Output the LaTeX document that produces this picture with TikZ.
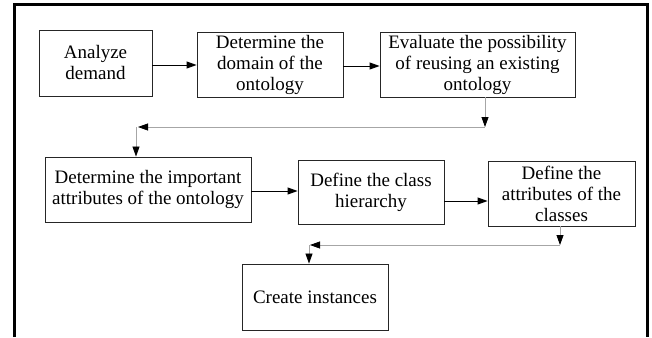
\documentclass[tikz,border=0pt]{standalone}
\usepackage{fontspec}
\setmainfont{Liberation Serif}
\usetikzlibrary{arrows.meta}
\begin{document}
\begin{tikzpicture}[x=1pt,y=-1pt,
  stepbox/.style={draw=black!85, line width=0.9pt, align=center, inner sep=0pt,
    font=\fontsize{19}{21}\selectfont},
  arr/.style={line width=0.9pt, -{Triangle[length=10pt,width=7pt]}},
  garr/.style={line width=0.8pt, draw=black!35, -{Triangle[length=10pt,width=7pt,color=black]}}]
\useasboundingbox (0,0) rectangle (652,337);
\draw[line width=3pt] (14,337) -- (14,5) -- (647,5) -- (647,337);

\node[stepbox, minimum width=113pt, minimum height=66pt] (a) at (95.5,63) {Analyze\\demand};
\node[stepbox, minimum width=146pt, minimum height=65pt] (b) at (270,64.5) {Determine the\\domain of the\\ontology};
\node[stepbox, minimum width=195pt, minimum height=65pt] (c) at (477.5,64.5) {Evaluate the possibility\\of reusing an existing\\ontology};
\node[stepbox, minimum width=206pt, minimum height=65pt] (d) at (148,189.5) {Determine the important\\attributes of the ontology};
\node[stepbox, minimum width=146pt, minimum height=64pt] (e) at (371,192) {Define the class\\hierarchy};
\node[stepbox, minimum width=147pt, minimum height=65pt] (f) at (561.5,193.5) {Define the\\attributes of the\\classes};
\node[stepbox, minimum width=146pt, minimum height=66pt] (g) at (315,297) {Create instances};

\coordinate (t1) at (485,127);
\coordinate (t2) at (136,127);
\coordinate (t3) at (560,245);
\coordinate (t4) at (309,245);

\draw[arr] ([yshift=-2pt]a.east) -- ([yshift=-2pt]a.east -| b.west);
\draw[arr] ([yshift=-1.5pt]b.east) -- ([yshift=-1.5pt]b.east -| c.west);
\draw[garr] (c.south -| t1) -- (t1);
\draw[garr] (t1) -- ([xshift=2pt]t2);
\draw[garr] (t2) -- (d.north -| t2);
\draw[arr] ([yshift=-1.5pt]d.east) -- ([yshift=-1.5pt]d.east -| e.west);
\draw[arr] ([yshift=-9pt]e.east) -- ([yshift=-9pt]e.east -| f.west);
\draw[garr] (f.south -| t3) -- (t3);
\draw[garr] (t3) -- ([xshift=1pt]t4);
\draw[garr] (t4) -- (g.north -| t4);
\end{tikzpicture}
\end{document}
